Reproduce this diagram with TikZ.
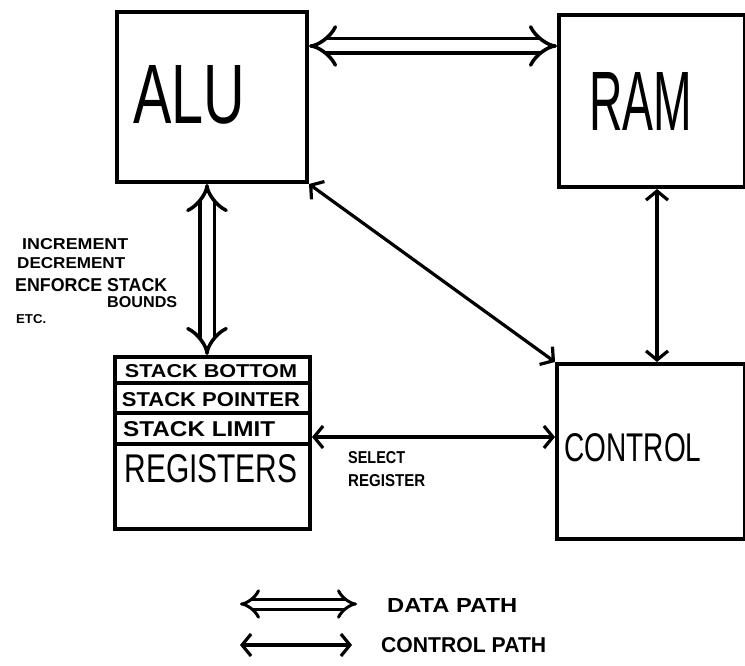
\documentclass[tikz,border=0pt]{standalone}
\usepackage{graphicx}
\usepackage{fontspec}
\setmainfont{Liberation Sans}
\usetikzlibrary{arrows.meta}
\newcommand{\fitbox}[3]{\resizebox{#1}{#2}{#3}}
\tikzset{
  box/.style={draw, line width=4pt, inner sep=0pt, anchor=north west},
  lbl/.style={inner sep=0pt},
  small/.style={inner sep=0pt, font=\bfseries},
  dpath/.style={double, double distance=11pt, line width=3.5pt, {Implies}-{Implies}},
  cpath/.style={line width=3.2pt, {Straight Barb[length=9pt,width=22pt]}-{Straight Barb[length=9pt,width=22pt]}}
}
\begin{document}
\begin{tikzpicture}[x=1pt,y=-1pt]
\useasboundingbox (0,0) rectangle (745,666);
% boxes
\node[box, minimum width=190pt, minimum height=170pt] (alu) at (115,10) {};
\node[box, minimum width=186pt, minimum height=172pt] (ram) at (557,13) {};
\node[box, minimum width=188pt, minimum height=175pt] (ctrl) at (555,362) {};
\node[box, minimum width=195pt, minimum height=172pt] (reg) at (113,355) {};
% register rows
\coordinate (r1) at (113,383);
\coordinate (r2) at (113,413);
\coordinate (r3) at (113,444);
\draw[line width=3.5pt] (r1) -- (r1 -| reg.east);
\draw[line width=3.5pt] (r2) -- (r2 -| reg.east);
\draw[line width=4pt] (r3) -- (r3 -| reg.east);
% big labels
\node[lbl] (alut) at (189,95) {\fitbox{112pt}{58pt}{ALU}};
\node[lbl] (ramt) at (641,101) {\fitbox{103pt}{58pt}{RAM}};
\node[lbl] (ctrlt) at (633,448) {\fitbox{137pt}{28pt}{CONTROL}};
\node[lbl] (regt) at (211,469) {\fitbox{173pt}{28pt}{REGISTERS}};
% register row labels
\node[small] (sb) at (211,371) {\fitbox{172pt}{13pt}{STACK BOTTOM}};
\node[small] (sp) at (211,400) {\fitbox{178pt}{14pt}{STACK POINTER}};
\node[small, anchor=west] (sl) at (123,429) {\fitbox{152pt}{15pt}{STACK LIMIT}};
% side labels
\node[small, anchor=west] (inc) at (22,244) {\fitbox{106pt}{11pt}{INCREMENT}};
\node[small, anchor=west] (dec) at (17,263) {\fitbox{108pt}{11pt}{DECREMENT}};
\node[small, anchor=west] (enf) at (15,285) {\fitbox{152pt}{13pt}{ENFORCE STACK}};
\node[small, anchor=west] (bnd) at (107,302) {\fitbox{70pt}{11pt}{BOUNDS}};
\node[small, anchor=west] (etc) at (16,319) {\fitbox{30pt}{9pt}{ETC.}};
\node[small, anchor=west] (sel) at (348,458) {\fitbox{57pt}{12pt}{SELECT}};
\node[small, anchor=west] (selr) at (348,481) {\fitbox{77pt}{12pt}{REGISTER}};
% connectors
\draw[dpath] (alu.east |- 0,46) -- (ram.west |- 0,46);
\draw[dpath] ([xshift=-5pt]alu.south) -- ([xshift=-5pt]alu.south |- reg.north);
\draw[cpath] (alu.south east) -- (ctrl.north west);
\draw[cpath] ([xshift=5pt]ram.south) -- ([xshift=5pt]ram.south |- ctrl.north);
\draw[cpath] (reg.east |- 0,437) -- (ctrl.west |- 0,437);
% legend
\coordinate (d1) at (240,604);
\coordinate (d2) at (357,604);
\coordinate (c1) at (240,645);
\coordinate (c2) at (352,645);
\draw[dpath, double distance=7pt, line width=3pt] (d1) -- (d2);
\draw[cpath] (c1) -- (c2);
\node[small, anchor=west] (dp) at (387,605) {\fitbox{130pt}{14pt}{DATA PATH}};
\node[small, anchor=west] (cp) at (381,645) {\fitbox{165pt}{15pt}{CONTROL PATH}};
\end{tikzpicture}
\end{document}
